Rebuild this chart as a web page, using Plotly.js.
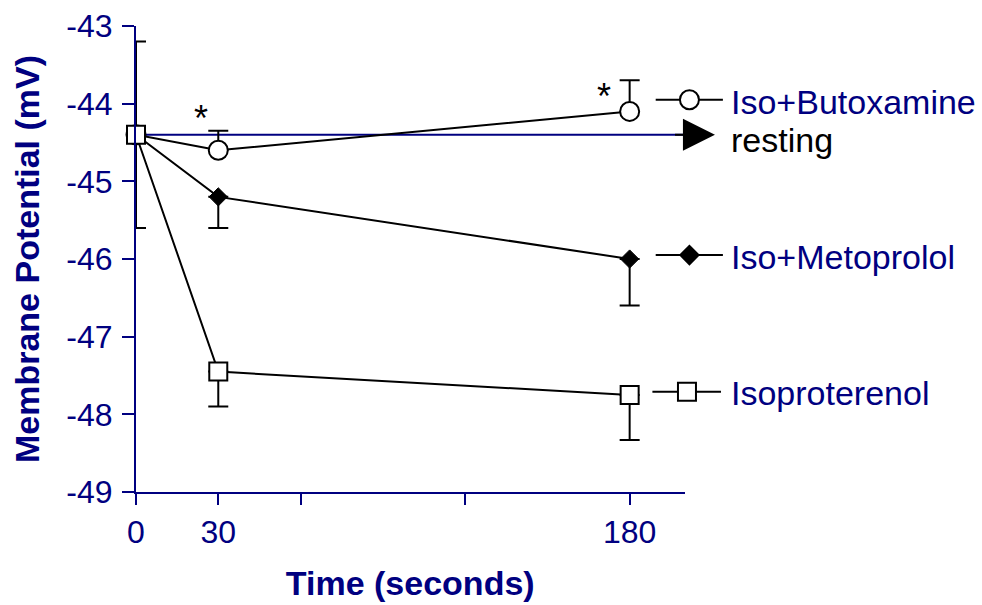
<!DOCTYPE html>
<html>
<head>
<meta charset="utf-8">
<script src="https://cdn.plot.ly/plotly-3.0.1.min.js"></script>
<style>html,body{margin:0;padding:0;background:#fff;}#chart{width:982px;height:605px;}</style>
</head>
<body>
<div id="chart"></div>
<script>
// ---- data ----
const timeSec = [0, 30, 180];
const butoxamine = [-44.4, -44.6, -44.1];
const butoxErrUp = [0, 0.25, 0.4];
const metoprolol = [-44.4, -45.2, -46.0];
const metoErrDown = [0, 0.4, 0.6];
const isoproterenol = [-44.4, -47.45, -47.75];
const isoErrUp = [1.2, 0, 0];
const isoErrDown = [1.2, 0.45, 0.58];
const restingX = [0, 200];
const restingY = [-44.4, -44.4];
const xTickVals = [0, 30, 60, 120, 180];
const xTickText = ['0', '30', '', '', '180'];
const yTickVals = [-49, -48, -47, -46, -45, -44, -43];
const yTickText = ['-49', '-48', '-47', '-46', '-45', '-44', '-43'];
const seriesNames = ['Iso+Butoxamine', 'Iso+Metoprolol', 'Isoproterenol'];

// ---- layout geometry ----
const W = 982, H = 605, ML = 136, MR = 0, MT = 26, MB = 113;
const plotW = W - ML - MR;
const mainDom = 548.5 / plotW;
const x2Max = 200 / mainDom;
const NAVY = '#000080';
const FONT = 'Arial, "Liberation Sans", Helvetica, sans-serif';

const lineStyle = {color: '#000', width: 2};
const errStyle = {color: '#000', thickness: 2, width: 10};

const traces = [
  {x: restingX, y: restingY, mode: 'lines', line: {color: NAVY, width: 2}, hoverinfo: 'skip', showlegend: false},
  {x: timeSec, y: butoxamine, name: seriesNames[0], mode: 'lines+markers', line: lineStyle, cliponaxis: false,
   marker: {symbol: 'circle', size: 19, color: '#fff', line: {color: '#000', width: 2}},
   error_y: Object.assign({type: 'data', symmetric: false, array: butoxErrUp, arrayminus: [0, 0, 0]}, errStyle)},
  {x: timeSec, y: metoprolol, name: seriesNames[1], mode: 'lines+markers', line: lineStyle, cliponaxis: false,
   marker: {symbol: 'diamond', size: 14, color: '#000', line: {color: '#000', width: 1}},
   error_y: Object.assign({type: 'data', symmetric: false, array: [0, 0, 0], arrayminus: metoErrDown}, errStyle)},
  {x: timeSec, y: isoproterenol, name: seriesNames[2], mode: 'lines+markers', line: lineStyle, cliponaxis: false,
   marker: {symbol: 'square', size: 18, color: '#fff', line: {color: '#000', width: 2}},
   error_y: Object.assign({type: 'data', symmetric: false, array: isoErrUp, arrayminus: isoErrDown}, errStyle)}
];

// legend samples drawn on a second x axis sharing the same scale
const legendSamples = [
  {xs: [189.5, 201.8, 214.0], y: -43.95, sym: 'circle', size: 19, fill: '#fff'},
  {xs: [189.5, 201.8, 214.0], y: -45.95, sym: 'diamond', size: 14, fill: '#000'},
  {xs: [188.3, 200.9, 213.3], y: -47.71, sym: 'square', size: 18, fill: '#fff'}
];
legendSamples.forEach(s => {
  traces.push({x: s.xs, y: [s.y, s.y, s.y], xaxis: 'x2', yaxis: 'y', mode: 'lines+markers',
    line: lineStyle, showlegend: false, hoverinfo: 'skip',
    marker: {symbol: s.sym, size: s.size, color: s.fill, opacity: [0, 1, 0], line: {color: '#000', width: 2}}});
});

const labelX = 216.3;
const labelYs = [-43.98, -45.98, -47.73];
const annotations = seriesNames.map((t, i) => ({
  xref: 'x2', yref: 'y', x: labelX, y: labelYs[i], xanchor: 'left', yanchor: 'middle',
  text: t, showarrow: false, font: {family: FONT, size: 34, color: NAVY}
}));
annotations.push({xref: 'x2', yref: 'y', x: labelX, y: -44.47, xanchor: 'left', yanchor: 'middle',
  text: 'resting', showarrow: false, font: {family: FONT, size: 34, color: '#000'}});
// arrow head of the resting line
annotations.push({xref: 'x2', yref: 'y', axref: 'x2', ayref: 'y', x: 211.1, y: -44.4, ax: 196.0, ay: -44.4,
  text: '', showarrow: true, arrowhead: 2, arrowsize: 3.2, arrowwidth: 2, arrowcolor: '#000'});
// significance stars
[[23.8, -44.15], [170.6, -43.87]].forEach(p => annotations.push({
  xref: 'x', yref: 'y', x: p[0], y: p[1], text: '*', showarrow: false, yshift: -3,
  font: {family: FONT, size: 36, color: '#000'}}));

const layout = {
  width: W, height: H,
  margin: {l: ML, r: MR, t: MT, b: MB, pad: 0},
  paper_bgcolor: '#fff', plot_bgcolor: 'rgba(0,0,0,0)',
  showlegend: false,
  font: {family: FONT, color: NAVY},
  xaxis: {
    domain: [0, mainDom], range: [0, 200], showgrid: false, zeroline: false,
    showline: true, linecolor: NAVY, linewidth: 2,
    ticks: 'outside', ticklen: 11, tickwidth: 2, tickcolor: NAVY,
    tickmode: 'array', tickvals: xTickVals, ticktext: xTickText,
    tickfont: {family: FONT, size: 32, color: NAVY},
    title: {text: '<b>Time (seconds)</b>', font: {family: FONT, size: 34, color: NAVY}, standoff: 22},
    automargin: false
  },
  xaxis2: {domain: [0, 1], range: [0, x2Max], anchor: 'y', visible: false, showgrid: false, zeroline: false},
  yaxis: {
    anchor: 'x', range: [-49, -43], showgrid: false, zeroline: false,
    showline: true, linecolor: NAVY, linewidth: 2,
    tickmode: 'array', tickvals: yTickVals, ticktext: yTickText,
    ticks: 'outside', ticklen: 12, tickwidth: 2, tickcolor: NAVY, ticklabelstandoff: 3,
    tickfont: {family: FONT, size: 32, color: NAVY},
    title: {text: '<b>Membrane Potential (mV)</b>', font: {family: FONT, size: 34, color: NAVY}, standoff: 16},
    automargin: false
  },
  annotations: annotations
};

Plotly.newPlot('chart', traces, layout, {displayModeBar: false, staticPlot: true});
</script>
</body>
</html>
